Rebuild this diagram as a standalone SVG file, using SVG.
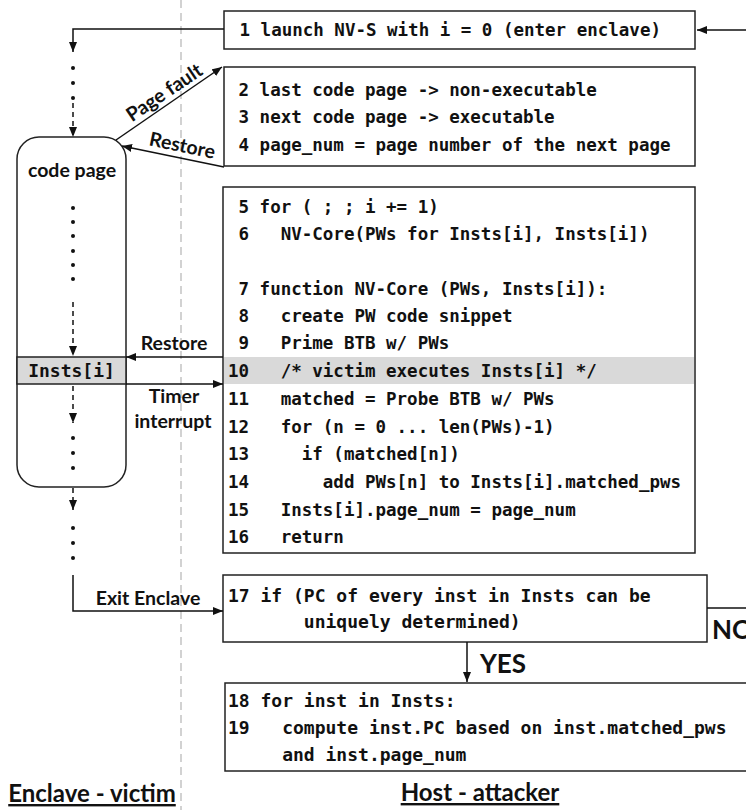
<svg xmlns="http://www.w3.org/2000/svg" width="746" height="810" viewBox="0 0 746 810" xml:space="preserve">
  <defs>
    <style>
      .box { fill: #ffffff; stroke: #222222; stroke-width: 1.5; }
      .code { font-family: "DejaVu Sans Mono", "Liberation Mono", monospace; font-weight: bold; font-size: 17.5px; fill: #111111; white-space: pre; }
      .code18 { font-size: 18px; }
      .lbl { font-family: Lato, "Open Sans", "Liberation Sans", sans-serif; font-weight: bold; font-size: 19.5px; fill: #111111; }
      .cap { font-family: Lato, "Open Sans", "Liberation Sans", sans-serif; font-weight: bold; font-size: 24px; fill: #111111; }
      .big { font-family: Lato, "Open Sans", "Liberation Sans", sans-serif; font-weight: bold; font-size: 26px; fill: #111111; }
      .wire { fill: none; stroke: #111111; stroke-width: 1.5; }
      .dash { fill: none; stroke: #111111; stroke-width: 1.5; stroke-dasharray: 5 4; }
      .dot { fill: #111111; }
      .hl { fill: #d9d9d9; }
    </style>
    <marker id="ah" viewBox="0 0 10 8" refX="10" refY="4" markerWidth="10" markerHeight="8" markerUnits="userSpaceOnUse" orient="auto">
      <path d="M0,0 L10,4 L0,8 z" fill="#111111"/>
    </marker>
  </defs>

  <rect width="746" height="810" fill="#ffffff"/>

  <!-- boundary between enclave and host -->
  <line x1="181" y1="0" x2="181" y2="810" stroke="#c4c4c4" stroke-width="1.5" stroke-dasharray="8 5"/>

  <!-- enclave side: code page column -->
  <g id="code-page">
    <rect class="box" x="17" y="137" width="109" height="350" rx="22" ry="22"/>
    <text class="lbl" x="72" y="177" text-anchor="middle">code page</text>
    <circle class="dot" cx="73" cy="208" r="2"/>
    <circle class="dot" cx="73" cy="222" r="2"/>
    <circle class="dot" cx="73" cy="236" r="2"/>
    <circle class="dot" cx="73" cy="251" r="2"/>
    <circle class="dot" cx="73" cy="265" r="2"/>
    <circle class="dot" cx="73" cy="279" r="2"/>
    <circle class="dot" cx="73" cy="438" r="2"/>
    <circle class="dot" cx="73" cy="453" r="2"/>
    <circle class="dot" cx="73" cy="468" r="2"/>
  </g>

  <g id="insts-i">
    <rect class="hl" x="17" y="357" width="109" height="27" stroke="#222222" stroke-width="1.5"/>
    <text class="code code18" x="71.5" y="377" text-anchor="middle">Insts[i]</text>
  </g>

  <g id="dots-before">
    <circle class="dot" cx="73" cy="68" r="2"/>
    <circle class="dot" cx="73" cy="83" r="2"/>
    <circle class="dot" cx="73" cy="98" r="2"/>
  </g>
  <g id="dots-after">
    <circle class="dot" cx="73" cy="528" r="2"/>
    <circle class="dot" cx="73" cy="543" r="2"/>
    <circle class="dot" cx="73" cy="558" r="2"/>
  </g>

  <!-- host side: attacker steps -->
  <g id="step-1">
    <rect class="box" x="224" y="11" width="471" height="38"/>
    <text class="code" x="229" y="36"> 1 launch NV-S with i = 0 (enter enclave)</text>
  </g>

  <g id="step-2-4">
    <rect class="box" x="224" y="67" width="471" height="99"/>
    <text class="code" x="228" y="96"> 2 last code page -&gt; non-executable</text>
    <text class="code" x="228" y="123"> 3 next code page -&gt; executable</text>
    <text class="code" x="228" y="151"> 4 page_num = page number of the next page</text>
  </g>

  <g id="step-5-16">
    <rect class="box" x="223" y="187" width="472" height="366"/>
    <rect class="hl" x="224" y="357" width="470" height="27"/>
    <text class="code" x="228" y="213"> 5 for ( ; ; i += 1)</text>
    <text class="code" x="228" y="240"> 6   NV-Core(PWs for Insts[i], Insts[i])</text>
    <text class="code" x="228" y="295"> 7 function NV-Core (PWs, Insts[i]):</text>
    <text class="code" x="228" y="322"> 8   create PW code snippet</text>
    <text class="code" x="228" y="349"> 9   Prime BTB w/ PWs</text>
    <text class="code" x="228" y="377">10   /* victim executes Insts[i] */</text>
    <text class="code" x="228" y="405">11   matched = Probe BTB w/ PWs</text>
    <text class="code" x="228" y="433">12   for (n = 0 ... len(PWs)-1)</text>
    <text class="code" x="228" y="460">13     if (matched[n])</text>
    <text class="code" x="228" y="488">14       add PWs[n] to Insts[i].matched_pws</text>
    <text class="code" x="228" y="516">15   Insts[i].page_num = page_num</text>
    <text class="code" x="228" y="543">16   return</text>
  </g>

  <g id="step-17">
    <rect class="box" x="223" y="575" width="484" height="67"/>
    <text class="code code18" x="228" y="602">17 if (PC of every inst in Insts can be</text>
    <text class="code code18" x="228" y="628">       uniquely determined)</text>
  </g>

  <g id="step-18-19">
    <rect class="box" x="225" y="683" width="540" height="88"/>
    <text class="code code18" x="228" y="707">18 for inst in Insts:</text>
    <text class="code code18" x="228" y="734">19   compute inst.PC based on inst.matched_pws</text>
    <text class="code code18" x="228" y="761">     and inst.page_num</text>
  </g>

  <!-- connectors -->
  <g id="connectors">
    <path class="wire" d="M224,29 H73 V52" marker-end="url(#ah)"/>
    <path class="wire" d="M746,30 H697" marker-end="url(#ah)"/>
    <path class="dash" d="M73,103 V137" marker-end="url(#ah)"/>
    <path class="wire" d="M116,140 L222,67" marker-end="url(#ah)"/>
    <path class="wire" d="M224,167 L122,146" marker-end="url(#ah)"/>
    <path class="dash" d="M73,302 V356" marker-end="url(#ah)"/>
    <path class="wire" d="M223,357 H126" marker-end="url(#ah)"/>
    <path class="wire" d="M126,384 H223" marker-end="url(#ah)"/>
    <path class="dash" d="M73,386 V423" marker-end="url(#ah)"/>
    <path class="dash" d="M73,488 V510" marker-end="url(#ah)"/>
    <path class="wire" d="M73,575 V611 H223" marker-end="url(#ah)"/>
    <path class="wire" d="M707,608 H746"/>
    <path class="wire" d="M467,642 V682" marker-end="url(#ah)"/>
  </g>

  <!-- connector labels -->
  <g id="labels">
    <text class="lbl" transform="translate(168,98) rotate(-34)" text-anchor="middle">Page fault</text>
    <text class="lbl" transform="translate(181,152) rotate(11.7)" text-anchor="middle">Restore</text>
    <text class="lbl" x="174" y="350" text-anchor="middle">Restore</text>
    <text class="lbl" x="174" y="403" text-anchor="middle">Timer</text>
    <text class="lbl" x="173" y="428" text-anchor="middle">interrupt</text>
    <text class="lbl" x="148" y="605" text-anchor="middle">Exit Enclave</text>
    <text class="big" x="712" y="639">NO</text>
    <text class="big" x="480" y="673">YES</text>
  </g>

  <!-- side captions -->
  <g id="captions">
    <text class="cap" x="92" y="802" text-anchor="middle" text-decoration="underline">Enclave - victim</text>
    <text class="cap" x="480" y="801" text-anchor="middle" text-decoration="underline">Host - attacker</text>
  </g>
</svg>
